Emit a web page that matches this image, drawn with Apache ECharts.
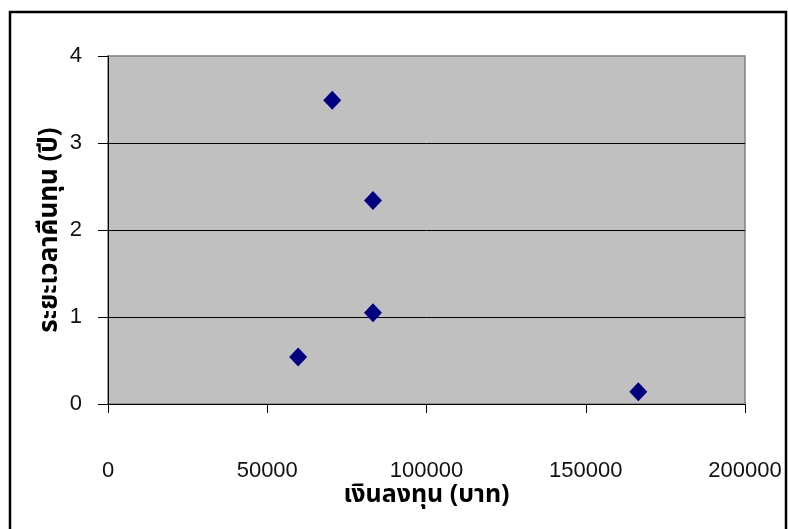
<!DOCTYPE html>
<html>
<head>
<meta charset="utf-8">
<script src="https://cdn.jsdelivr.net/npm/echarts@6/dist/echarts.min.js"></script>
<style>
  html, body { margin: 0; padding: 0; background: #fff; }
  #chart { width: 788px; height: 529px; }
</style>
</head>
<body>
<div id="chart"></div>
<script>
// Investment (baht) vs payback period (years)
const investment = [70400, 83200, 83200, 59700, 166500];
const paybackYears = [3.49, 2.34, 1.05, 0.54, 0.14];
const xTicks = [0, 50000, 100000, 150000, 200000];
const yTicks = [0, 1, 2, 3, 4];
const xName = 'เงินลงทุน (บาท)';
const yName = 'ระยะเวลาคืนทุน (ปี)';

const points = investment.map((v, i) => [v, paybackYears[i]]);
const labelFont = "'Liberation Sans', Arial, sans-serif";
const thaiFont = "Tahoma, 'Noto Sans Thai', 'Liberation Sans', sans-serif";

const chart = echarts.init(document.getElementById('chart'), null, { renderer: 'canvas' });
chart.setOption({
  animation: false,
  backgroundColor: '#ffffff',
  graphic: [{
    type: 'rect',
    shape: { x: 10, y: 12, width: 776, height: 540 },
    style: { fill: 'none', stroke: '#000', lineWidth: 2.5 },
    silent: true
  }],
  grid: {
    left: 108, right: 43, top: 56, bottom: 125,
    show: true,
    backgroundColor: '#C0C0C0',
    borderColor: '#808080',
    borderWidth: 1.5
  },
  xAxis: {
    type: 'value',
    min: xTicks[0], max: xTicks[xTicks.length - 1], interval: xTicks[1] - xTicks[0],
    name: xName,
    nameLocation: 'middle',
    nameGap: 80,
    nameMoveOverlap: false,
    nameTextStyle: { fontFamily: thaiFont, fontWeight: 'bold', fontSize: 25, color: '#000' },
    axisLine: { show: true, lineStyle: { color: '#000', width: 1 } },
    axisTick: { show: true, inside: false, length: 9, lineStyle: { color: '#000' } },
    axisLabel: { margin: 56, fontFamily: labelFont, fontSize: 22, color: '#111', formatter: v => String(v) },
    splitLine: { show: false }
  },
  yAxis: {
    type: 'value',
    min: yTicks[0], max: yTicks[yTicks.length - 1], interval: yTicks[1] - yTicks[0],
    name: yName,
    nameLocation: 'middle',
    nameGap: 43,
    nameMoveOverlap: false,
    nameTextStyle: { fontFamily: thaiFont, fontWeight: 'bold', fontSize: 26, color: '#000' },
    axisLine: { show: true, lineStyle: { color: '#000', width: 1 } },
    axisTick: { show: true, inside: false, length: 10, lineStyle: { color: '#000' } },
    axisLabel: { margin: 26, fontFamily: labelFont, fontSize: 22, color: '#111', formatter: v => String(v) },
    splitLine: { show: true, showMinLine: false, showMaxLine: false, lineStyle: { color: '#000', width: 1 } }
  },
  series: [{
    type: 'scatter',
    data: points,
    symbol: 'diamond',
    symbolSize: [18, 19],
    itemStyle: { color: '#000080', opacity: 1 }
  }]
});
</script>
</body>
</html>
